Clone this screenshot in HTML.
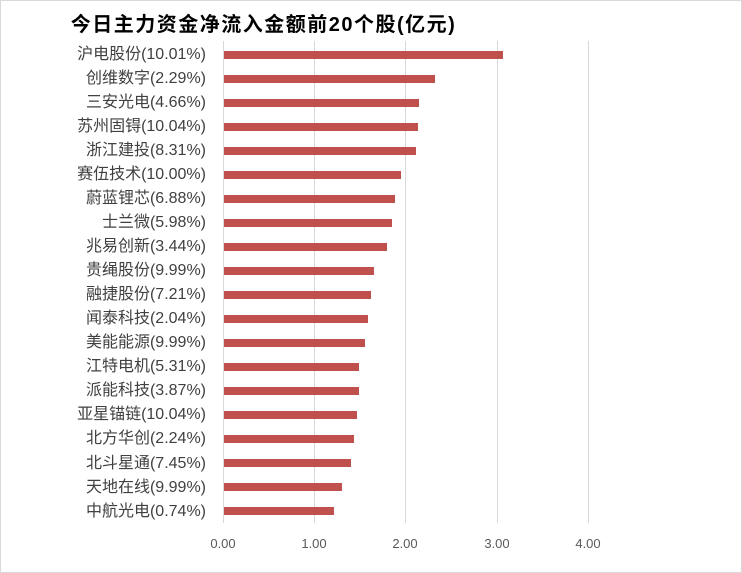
<!DOCTYPE html>
<html><head><meta charset="utf-8"><style>
body{margin:0;background:#fff}
.c{position:relative;width:740px;height:571px;border:1px solid #d9d9d9;overflow:hidden;font-family:"Liberation Sans","Noto Sans CJK SC",sans-serif}
.t{position:absolute;left:0;top:7px;width:525px;text-align:center;font-size:20px;font-weight:bold;color:#000;letter-spacing:1.5px}
.g{position:absolute;top:40px;height:482px;width:1px;background:#d9d9d9}
.b{position:absolute;left:223px;height:8px;background:#c0504d}
.l{position:absolute;right:535px;font-size:16px;color:#404040;white-space:nowrap;line-height:20px}
.x{position:absolute;top:535px;font-size:13px;color:#595959;width:60px;text-align:center}
</style></head><body><div class="c">
<div class="t">今日主力资金净流入金额前20个股(亿元)</div>
<div class="g" style="left:222px"></div><div class="g" style="left:313px"></div><div class="g" style="left:404px"></div><div class="g" style="left:496px"></div><div class="g" style="left:587px"></div>
<div id="r"></div>
<div class="x" style="left:192px">0.00</div><div class="x" style="left:283px">1.00</div><div class="x" style="left:374px">2.00</div><div class="x" style="left:466px">3.00</div><div class="x" style="left:557px">4.00</div>
</div>
<script>
var d=[["沪电股份(10.01%)",502],["创维数字(2.29%)",434],["三安光电(4.66%)",418],["苏州固锝(10.04%)",417],["浙江建投(8.31%)",415],["赛伍技术(10.00%)",400],["蔚蓝锂芯(6.88%)",394],["士兰微(5.98%)",391],["兆易创新(3.44%)",386],["贵绳股份(9.99%)",373],["融捷股份(7.21%)",370],["闻泰科技(2.04%)",367],["美能能源(9.99%)",364],["江特电机(5.31%)",358],["派能科技(3.87%)",358],["亚星锚链(10.04%)",356],["北方华创(2.24%)",353],["北斗星通(7.45%)",350],["天地在线(9.99%)",341],["中航光电(0.74%)",333]];
var h="";d.forEach(function(e,i){var y=53.5+i*24.03;h+='<div class="b" style="top:'+(y-4)+'px;width:'+(e[1]-223)+'px"></div><div class="l" style="top:'+(y-9.5)+'px">'+e[0]+'</div>';});
document.getElementById("r").outerHTML=h;
</script>
</body></html>
